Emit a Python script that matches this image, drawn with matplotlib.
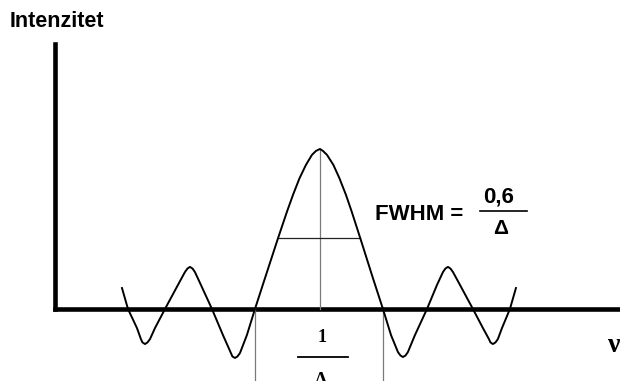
import numpy as np
import matplotlib.pyplot as plt

# intensity profile, nu in units of 1/Delta, intensity relative to the peak
nu = [-1.539, -1.492, -1.422, -1.391, -1.379, -1.359, -1.340, -1.320,
      -1.281, -1.203, -1.102, -1.047, -1.027, -1.008, -0.988, -0.969,
      -0.922, -0.836, -0.750, -0.688, -0.676, -0.656, -0.637, -0.617,
      -0.563, -0.500, -0.422, -0.320, -0.250, -0.203, -0.152, -0.102,
      -0.055, -0.023, 0.008, 0.031, 0.063, 0.113, 0.160, 0.211,
      0.256, 0.323, 0.422, 0.500,
      0.563, 0.617, 0.637, 0.656, 0.676, 0.695, 0.750, 0.844,
      0.922, 0.969, 0.988, 1.008, 1.027, 1.047, 1.102, 1.203,
      1.281, 1.328, 1.340, 1.359, 1.379, 1.398, 1.430, 1.492, 1.539]
intensity = [0.131, 0.000, -0.119, -0.188, -0.209, -0.219, -0.209, -0.188,
             -0.119, 0.000, 0.150, 0.231, 0.253, 0.263, 0.253, 0.231,
             0.150, 0.000, -0.163, -0.275, -0.297, -0.306, -0.297, -0.275,
             -0.163, 0.000, 0.192, 0.442, 0.608, 0.713, 0.817, 0.900,
             0.963, 0.988, 1.000, 0.988, 0.963, 0.900, 0.817, 0.713,
             0.608, 0.442, 0.192, 0.000,
             -0.163, -0.269, -0.291, -0.300, -0.291, -0.269, -0.163, 0.000,
             0.150, 0.231, 0.253, 0.263, 0.253, 0.231, 0.150, 0.000,
             -0.119, -0.188, -0.209, -0.219, -0.209, -0.188, -0.119, 0.000, 0.131]

peak_nu, peak = 0.008, 1.0
half_level = 0.442
half_left, half_right = -0.320, 0.323
zero_left, zero_right = -0.5, 0.5

fig = plt.figure(figsize=(6.2, 3.81), dpi=100)
ax = fig.add_axes([0, 0, 1, 1])
ax.set_xlim(-2.492, 2.352)
ax.set_ylim(-0.45, 1.931)
ax.axis('off')

# axes drawn by hand
ax.plot([-2.066, -2.066], [1.655, 0], color='black', lw=3.3, solid_capstyle='projecting')
ax.plot([-2.066, 2.5], [0, 0], color='black', lw=3.3, solid_capstyle='projecting')

# helper lines
ax.plot([peak_nu, peak_nu], [0, peak], color='#7a7a7a', lw=0.9)
ax.plot([half_left, half_right], [half_level, half_level], color='#222222', lw=0.9)
ax.plot([zero_left, zero_left], [0, -0.5], color='#7a7a7a', lw=0.9)
ax.plot([zero_right, zero_right], [0, -0.5], color='#7a7a7a', lw=0.9)

# curve
ax.plot(nu, intensity, color='black', lw=1.4, solid_joinstyle='round')

sans = 'Liberation Sans'
serif = 'Liberation Serif'

ax.text(-2.414, 1.794, 'Intenzitet', family=sans, weight='bold', fontsize=15.5,
        ha='left', va='center')

# FWHM label
ax.text(0.4375, 0.5875, 'FWHM =', family=sans, weight='bold', fontsize=16,
        ha='left', va='center')
ax.text(1.40, 0.70, '0,6', family=sans, weight='bold', fontsize=16,
        ha='center', va='center')
ax.plot([1.258, 1.625], [0.6125, 0.6125], color='black', lw=1.2)
ax.text(1.422, 0.506, 'Δ', family=sans, weight='bold', fontsize=15,
        ha='center', va='center')

# main lobe width
ax.text(0.023, -0.181, '1', family=serif, weight='bold', fontsize=13,
        ha='center', va='center')
ax.plot([-0.164, 0.227], [-0.30, -0.30], color='black', lw=1.3)
ax.text(0.016, -0.395, 'Δ', family=serif, weight='bold', fontsize=14,
        ha='center', va='top')

ax.text(2.25, -0.231, 'ν', family=serif, weight='bold', fontsize=20,
        ha='left', va='center')

fig.savefig('out.png', dpi=100)
